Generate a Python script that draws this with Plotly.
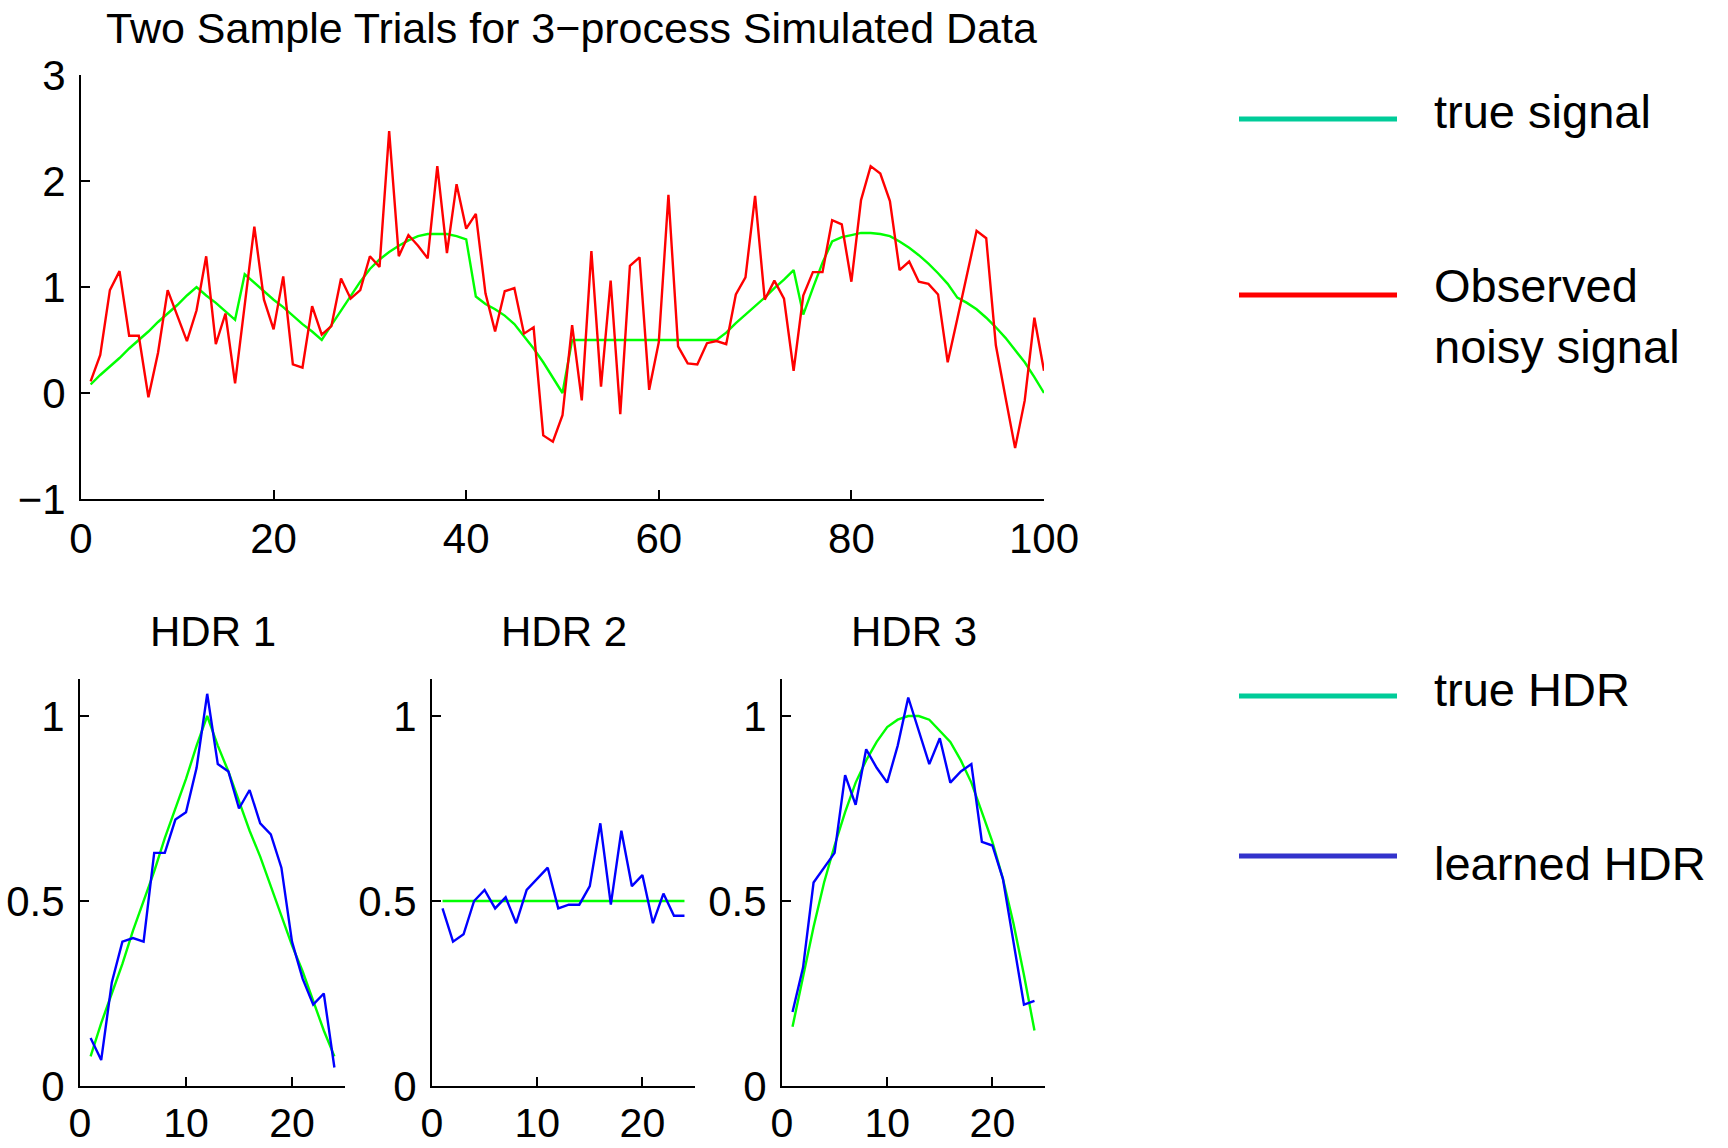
import plotly.graph_objects as go

# ---------------- data ----------------
t = list(range(1, 101))

true_signal = [
    0.08, 0.17, 0.25, 0.33, 0.42, 0.50, 0.58, 0.67, 0.75, 0.83,
    0.92, 1.00, 0.92, 0.85, 0.77, 0.69, 1.12, 1.04, 0.96, 0.88,
    0.81, 0.73, 0.65, 0.58, 0.50, 0.64, 0.78, 0.91, 1.05, 1.17,
    1.26, 1.33, 1.39, 1.44, 1.48, 1.50, 1.50, 1.50, 1.48, 1.45,
    0.91, 0.84, 0.79, 0.73, 0.65, 0.54, 0.42, 0.29, 0.14, 0.00,
    0.50, 0.50, 0.50, 0.50, 0.50, 0.50, 0.50, 0.50, 0.50, 0.50,
    0.50, 0.50, 0.50, 0.50, 0.50, 0.50, 0.57, 0.66, 0.74, 0.82,
    0.90, 0.99, 1.07, 1.16, 0.74, 0.99, 1.23, 1.43, 1.47, 1.49,
    1.51, 1.51, 1.50, 1.48, 1.43, 1.37, 1.30, 1.22, 1.13, 1.03,
    0.90, 0.85, 0.79, 0.71, 0.62, 0.52, 0.41, 0.29, 0.15, 0.00,
]

observed_signal = [
    0.11, 0.36, 0.97, 1.15, 0.54, 0.54, -0.04, 0.38, 0.97, 0.72,
    0.49, 0.78, 1.29, 0.46, 0.75, 0.09, 0.83, 1.57, 0.88, 0.60,
    1.10, 0.27, 0.24, 0.82, 0.55, 0.63, 1.08, 0.89, 0.97, 1.29,
    1.19, 2.47, 1.29, 1.49, 1.39, 1.27, 2.14, 1.32, 1.97, 1.55,
    1.69, 0.94, 0.58, 0.96, 0.99, 0.56, 0.62, -0.40, -0.46, -0.21,
    0.64, -0.07, 1.34, 0.06, 1.06, -0.20, 1.20, 1.28, 0.03, 0.48,
    1.87, 0.44, 0.28, 0.27, 0.47, 0.49, 0.46, 0.93, 1.09, 1.86,
    0.88, 1.06, 0.89, 0.21, 0.92, 1.14, 1.14, 1.63, 1.59, 1.05,
    1.82, 2.14, 2.07, 1.81, 1.16, 1.24, 1.05, 1.03, 0.93, 0.29,
    0.70, 1.12, 1.53, 1.46, 0.45, -0.04, -0.52, -0.07, 0.71, 0.21,
]

lag = list(range(1, 25))

hdr1_true = [0.08, 0.17, 0.25, 0.33, 0.42, 0.50, 0.58, 0.67, 0.75, 0.83, 0.92, 1.00,
             0.92, 0.85, 0.77, 0.69, 0.62, 0.54, 0.46, 0.38, 0.31, 0.23, 0.15, 0.08]
hdr1_learned = [0.13, 0.07, 0.28, 0.39, 0.40, 0.39, 0.63, 0.63, 0.72, 0.74, 0.86, 1.06,
                0.87, 0.85, 0.75, 0.80, 0.71, 0.68, 0.59, 0.39, 0.29, 0.22, 0.25, 0.05]

hdr2_true = [0.50] * 24
hdr2_learned = [0.48, 0.39, 0.41, 0.50, 0.53, 0.48, 0.51, 0.44, 0.53, 0.56, 0.59, 0.48,
                0.49, 0.49, 0.54, 0.71, 0.49, 0.69, 0.54, 0.57, 0.44, 0.52, 0.46, 0.46]

hdr3_true = [0.16, 0.30, 0.43, 0.55, 0.65, 0.74, 0.82, 0.88, 0.93, 0.97, 0.99, 1.00,
             1.00, 0.99, 0.96, 0.93, 0.88, 0.82, 0.74, 0.66, 0.56, 0.44, 0.30, 0.15]
hdr3_learned = [0.20, 0.32, 0.55, 0.59, 0.63, 0.84, 0.76, 0.91, 0.86, 0.82, 0.92, 1.05,
                0.96, 0.87, 0.94, 0.82, 0.85, 0.87, 0.66, 0.65, 0.56, 0.39, 0.22, 0.23]

top_xticks = [0, 20, 40, 60, 80, 100]
top_yticks = [-1, 0, 1, 2, 3]
hdr_xticks = [0, 10, 20]
hdr_yticks = [0, 0.5, 1]
hdr_yticktext = ["0", "0.5", "1"]
hdr_titles = ["HDR 1", "HDR 2", "HDR 3"]
legend_labels = ["true signal", "Observed<br>noisy signal", "true HDR", "learned HDR"]

# ---------------- layout helpers ----------------
W, H = 1728, 1148
FONT = "Liberation Sans, Arial, Helvetica, sans-serif"


def fx(p):
    return p / W


def fy(p):
    return 1 - p / H


GREEN = "#00FF00"
RED = "#FF0000"
BLUE = "#0000FF"
LEG_GREEN = "#00CC99"
LEG_BLUE = "#3333CC"

fig = go.Figure()

# top panel
fig.add_trace(go.Scatter(x=t, y=true_signal, mode="lines",
                         line=dict(color=GREEN, width=2.4), xaxis="x", yaxis="y"))
fig.add_trace(go.Scatter(x=t, y=observed_signal, mode="lines",
                         line=dict(color=RED, width=2.4), xaxis="x", yaxis="y"))

# HDR panels
panels = [(hdr1_true, hdr1_learned), (hdr2_true, hdr2_learned), (hdr3_true, hdr3_learned)]
for i, (tr, le) in enumerate(panels):
    xa = "x%d" % (i + 2)
    ya = "y%d" % (i + 2)
    fig.add_trace(go.Scatter(x=lag, y=tr, mode="lines",
                             line=dict(color=GREEN, width=2.4), xaxis=xa, yaxis=ya))
    fig.add_trace(go.Scatter(x=lag, y=le, mode="lines",
                             line=dict(color=BLUE, width=2.4), xaxis=xa, yaxis=ya))

axis_common = dict(
    showline=True, linecolor="black", linewidth=2,
    ticks="inside", ticklen=9, tickwidth=2, tickcolor="black",
    showgrid=False, zeroline=False, fixedrange=True, automargin=False,
    tickfont=dict(family=FONT, size=42, color="black"),
)

layout = dict(
    width=W, height=H, autosize=False,
    margin=dict(l=0, r=0, t=0, b=0, pad=0, autoexpand=False),
    paper_bgcolor="white", plot_bgcolor="white",
    showlegend=False,
    xaxis=dict(axis_common, domain=[fx(81), fx(1044)], range=[0, 100],
               tickvals=top_xticks, anchor="y", ticklabelstandoff=2),
    yaxis=dict(axis_common, domain=[fy(499), fy(75)], range=[-1, 3],
               tickvals=top_yticks, anchor="x", ticklabelstandoff=5),
)

hdr_px = [(80, 345), (432, 695), (782, 1045)]
for i, (a, b) in enumerate(hdr_px):
    n = i + 2
    layout["xaxis%d" % n] = dict(axis_common, domain=[fx(a), fx(b)], range=[0, 25],
                                 tickvals=hdr_xticks, anchor="y%d" % n, ticklabelstandoff=0,
                                 tickfont=dict(family=FONT, size=41, color="black"))
    layout["yaxis%d" % n] = dict(axis_common, domain=[fy(1086), fy(679)], range=[0, 1.1],
                                 tickvals=hdr_yticks, ticktext=hdr_yticktext,
                                 anchor="x%d" % n, ticklabelstandoff=5)

fig.update_layout(**layout)

annotations = [
    dict(text="Two Sample Trials for 3\u2212process Simulated Data",
         x=fx(571), y=fy(28), xref="paper", yref="paper",
         xanchor="center", yanchor="middle", showarrow=False,
         font=dict(family=FONT, size=43, color="black")),
]
for i, (a, b) in enumerate(hdr_px):
    annotations.append(dict(text=hdr_titles[i], x=fx((a + b) / 2), y=fy(631),
                            xref="paper", yref="paper", xanchor="center", yanchor="middle",
                            showarrow=False, font=dict(family=FONT, size=42, color="black")))

legend_lines = [(119, LEG_GREEN), (295, RED), (696, LEG_GREEN), (856, LEG_BLUE)]
legend_text_y = [111, 316, 689, 863]
shapes = []
for (ly, col), label, ty in zip(legend_lines, legend_labels, legend_text_y):
    shapes.append(dict(type="line", xref="paper", yref="paper",
                       x0=fx(1239), x1=fx(1397), y0=fy(ly), y1=fy(ly),
                       line=dict(color=col, width=5)))
    annotations.append(dict(text=label, x=fx(1432), y=fy(ty), xref="paper", yref="paper",
                            xanchor="left", yanchor="middle", align="left", showarrow=False,
                            font=dict(family=FONT, size=47, color="black")))

fig.update_layout(annotations=annotations, shapes=shapes)

fig.write_html("out.html")
